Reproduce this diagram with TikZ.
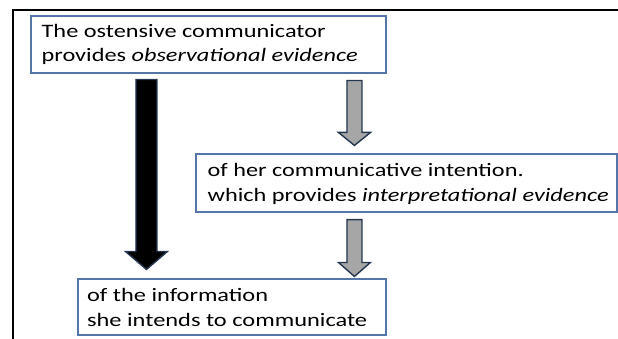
\documentclass[tikz,border=0pt]{standalone}
\usepackage{fontspec}
\usepackage{graphicx}
\setmainfont{Carlito}
\usetikzlibrary{calc}
\definecolor{boxblue}{RGB}{84,117,167}
\definecolor{navy}{RGB}{36,54,80}
\definecolor{arrowgray}{RGB}{166,166,166}
\newcommand\fatarrow[6]{%
  \draw[arrowline, fill=#1] let \p1=(#2), \p2=(#3) in
    (\x1-#4,\y1) -- (\x1+#4,\y1) -- (\x1+#4,\y2+#6) -- (\x1+#5,\y2+#6)
    -- (\x1,\y2) -- (\x1-#5,\y2+#6) -- (\x1-#4,\y2+#6) -- cycle;}
\newcommand\fitline[2]{\resizebox{#1}{\height}{#2}}
\begin{document}
\begin{tikzpicture}[x=1pt,y=-1pt,
  box/.style={draw=boxblue, line width=1.1pt, fill=white, inner sep=0pt},
  txt/.style={anchor=base west, inner sep=0pt,
    font=\fontsize{19}{24}\selectfont},
  arrowline/.style={draw=navy, line width=1.4pt, line join=miter},
  frame/.style={draw=black, line width=1.5pt}]
\useasboundingbox (0,0) rectangle (618,339);
\draw[frame] (618,10) -- (13,10) -- (13,339);
% boxes
\node[box, minimum width=355pt, minimum height=57pt] (b1) at (208.5,44.5) {};
\node[box, minimum width=421pt, minimum height=58pt] (b2) at (406.5,183) {};
\node[box, minimum width=308pt, minimum height=56pt] (b3) at (232,307) {};
% texts
\node[txt] (t1a) at ([xshift=11pt,yshift=-22pt]b1.north west) {\fitline{284pt}{The ostensive communicator}};
\node[txt] (t1b) at ([xshift=11pt,yshift=-46.5pt]b1.north west) {\fitline{316pt}{provides \textit{observational evidence}}};
\node[txt] (t2a) at ([xshift=12pt,yshift=-23pt]b2.north west) {\fitline{316pt}{of her communicative intention.}};
\node[txt] (t2b) at ([xshift=12pt,yshift=-48pt]b2.north west) {\fitline{401pt}{which provides \textit{interpretational evidence}}};
\node[txt] (t3a) at ([xshift=9.5pt,yshift=-23pt]b3.north west) {\fitline{181pt}{of the information}};
\node[txt] (t3b) at ([xshift=9.5pt,yshift=-48.5pt]b3.north west) {\fitline{280pt}{she intends to communicate}};
% arrow end points
\path ([xshift=116pt,yshift=-6pt]b1.south west) coordinate (k1s);
\path ([yshift=9pt]k1s |- b3.north) coordinate (k1e);
\path ([xshift=324pt,yshift=-7pt]b1.south west) coordinate (k2s);
\path ([yshift=8pt]k2s |- b2.north) coordinate (k2e);
\path ([yshift=-7pt]k2s |- b2.south) coordinate (k3s);
\path ([yshift=2pt]k3s |- b3.north) coordinate (k3e);
% arrows
\fatarrow{black}{k1s}{k1e}{10.5pt}{21pt}{18pt}
\fatarrow{arrowgray}{k2s}{k2e}{7.5pt}{16pt}{13pt}
\fatarrow{arrowgray}{k3s}{k3e}{7.5pt}{16pt}{14pt}
\end{tikzpicture}
\end{document}
